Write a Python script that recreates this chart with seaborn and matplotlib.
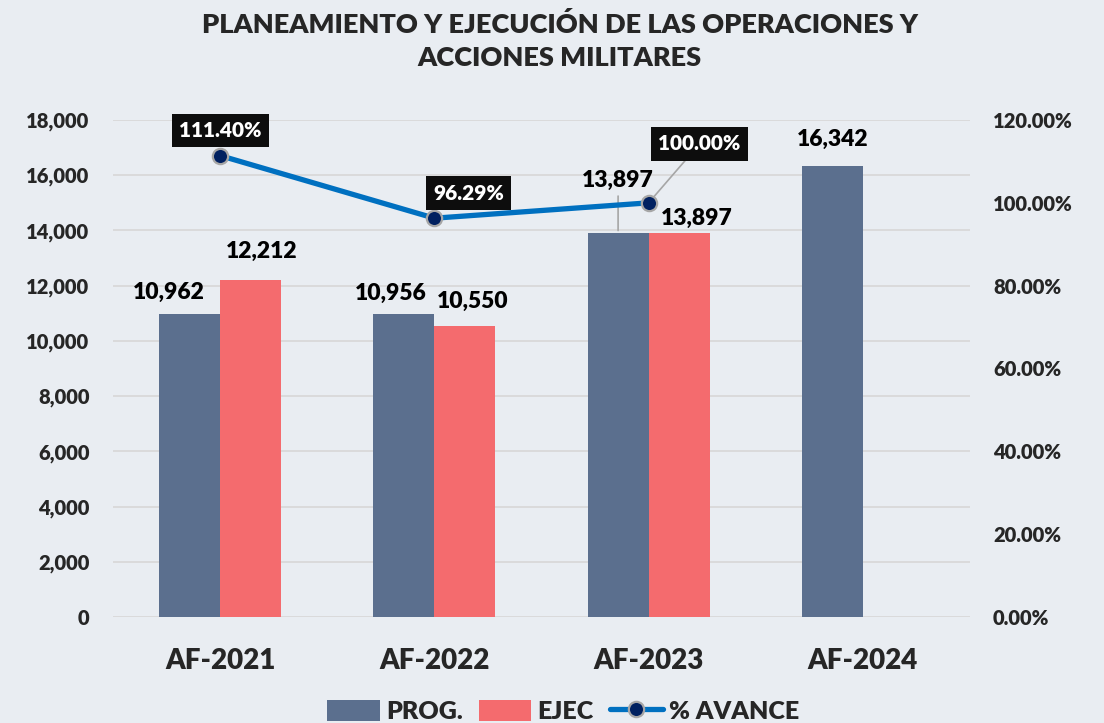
import matplotlib
import matplotlib.pyplot as plt
import numpy as np
import pandas as pd
import seaborn as sns
from matplotlib.lines import Line2D
from matplotlib.patches import Patch

matplotlib.use("Agg")

# data
years = ["AF-2021", "AF-2022", "AF-2023", "AF-2024"]
prog = [10962, 10956, 13897, 16342]
ejec = [12212, 10550, 13897, np.nan]
avance = [1.114, 0.9629, 1.0]
avance_labels = ["111.40%", "96.29%", "100.00%"]

BG = "#E9EDF2"
C_PROG = "#5B6F8E"
C_EJEC = "#F46B6E"
C_LINE = "#0070C0"
C_MARK = "#002060"
GRID = "#D9D9D9"

sns.set_theme(style="white")
plt.rcParams["font.family"] = ["Lato", "DejaVu Sans"]
plt.rcParams["font.weight"] = "bold"

df = pd.DataFrame(
    {
        "year": years * 2,
        "serie": ["PROG."] * len(years) + ["EJEC"] * len(years),
        "valor": prog + ejec,
    }
)

fig = plt.figure(figsize=(11.04, 7.23), dpi=100, facecolor=BG)
ax = fig.add_axes([113 / 1104, 1 - 617 / 723, 857 / 1104, 497 / 723])
ax.set_facecolor(BG)

sns.barplot(
    data=df,
    x="year",
    y="valor",
    hue="serie",
    order=years,
    hue_order=["PROG.", "EJEC"],
    palette={"PROG.": C_PROG, "EJEC": C_EJEC},
    width=0.57,
    gap=0,
    errorbar=None,
    saturation=1,
    linewidth=0,
    legend=False,
    ax=ax,
)
ax.set_ylim(0, 18000)
ax.set_xlim(-0.5, 3.5)
ax.set_yticks(np.arange(0, 18001, 2000))
ax.set_yticklabels([f"{v:,}" for v in range(0, 18001, 2000)], fontsize=14.5, fontweight="heavy")
ax.set_xticks(range(len(years)))
ax.set_xticklabels(years, fontsize=20, fontweight="heavy")
ax.tick_params(axis="y", length=0, pad=17)
ax.tick_params(axis="x", length=0, pad=22)
ax.set_xlabel("")
ax.set_ylabel("")
ax.yaxis.grid(True, color=GRID, lw=1.3)
ax.set_axisbelow(True)
for s in ax.spines.values():
    s.set_visible(False)

# bar value labels, offsets in pixels (dx, dy) from bar top
px = 0.72
offsets = {
    ("PROG.", 0): (-21, 22),
    ("EJEC", 0): (11, 28),
    ("PROG.", 1): (-13, 21),
    ("EJEC", 1): (8, 24),
    ("PROG.", 2): (0, 53),
    ("EJEC", 2): (18, 15),
    ("PROG.", 3): (0, 26),
}
for serie, cont in zip(["PROG.", "EJEC"], ax.containers):
    for bar in cont:
        h = bar.get_height()
        if not np.isfinite(h) or h == 0:
            continue
        xc = bar.get_x() + bar.get_width() / 2
        i = int(round(xc))
        dx, dy = offsets.get((serie, i), (0, 20))
        ax.annotate(
            f"{int(h):,}",
            (xc, h),
            xytext=(dx * px, dy * px),
            textcoords="offset points",
            ha="center",
            va="center",
            fontsize=16.5,
            fontweight="heavy",
            color="black",
        )
        if (serie, i) == ("PROG.", 2):
            ax.annotate(
                "",
                (xc, h),
                xytext=(0, 40 * px),
                textcoords="offset points",
                arrowprops=dict(arrowstyle="-", color="#A6A6A6", lw=1.2),
            )

# percentage line on right axis
ax2 = ax.twinx()
sns.lineplot(
    x=np.arange(len(avance)),
    y=avance,
    ax=ax2,
    color=C_LINE,
    lw=3.8,
    marker="o",
    markersize=11,
    markerfacecolor=C_MARK,
    markeredgecolor="#A6A6A6",
    markeredgewidth=1.6,
    zorder=5,
)
ax2.set_ylim(0, 1.2)
ax2.set_xlim(-0.5, 3.5)
ax2.set_yticks(np.arange(0, 1.21, 0.2))
ax2.set_yticklabels([f"{v * 100:.2f}%" for v in np.arange(0, 1.21, 0.2)], fontsize=14.5, fontweight="heavy")
ax2.tick_params(axis="y", length=0, pad=16.5)
ax2.set_ylabel("")
ax2.grid(False)
for s in ax2.spines.values():
    s.set_visible(False)

pct_offsets = [(0, 25), (34, 25), (51, 59)]
for i, (v, lab) in enumerate(zip(avance, avance_labels)):
    dx, dy = pct_offsets[i]
    ax2.annotate(
        lab,
        (i, v),
        xytext=(dx * px, dy * px),
        textcoords="offset points",
        ha="center",
        va="center",
        fontsize=15,
        fontweight="heavy",
        color="white",
        bbox=dict(boxstyle="square,pad=0.35", fc="#0D0D0D", ec="none"),
        arrowprops=dict(arrowstyle="-", color="#A6A6A6", lw=1.2, shrinkA=0, shrinkB=6) if i == 2 else None,
        zorder=6,
    )

fig.text(
    0.507,
    0.943,
    "PLANEAMIENTO Y EJECUCIÓN DE LAS OPERACIONES Y\nACCIONES MILITARES",
    ha="center",
    va="center",
    fontsize=19.5,
    fontweight="heavy",
    linespacing=1.45,
)

handles = [
    Patch(facecolor=C_PROG, edgecolor="none"),
    Patch(facecolor=C_EJEC, edgecolor="none"),
    Line2D([0], [0], color=C_LINE, lw=3.8, marker="o", markersize=11,
           markerfacecolor=C_MARK, markeredgecolor="#A6A6A6", markeredgewidth=1.6),
]
fig.legend(
    handles,
    ["PROG.", "EJEC", "% AVANCE"],
    loc="center",
    bbox_to_anchor=(0.51, 0.016),
    ncol=3,
    frameon=False,
    prop={"size": 18, "weight": "heavy"},
    handlelength=2.1,
    handleheight=0.9,
    handletextpad=0.25,
    columnspacing=0.65,
)

fig.savefig("out.png", dpi=100, facecolor=BG)
